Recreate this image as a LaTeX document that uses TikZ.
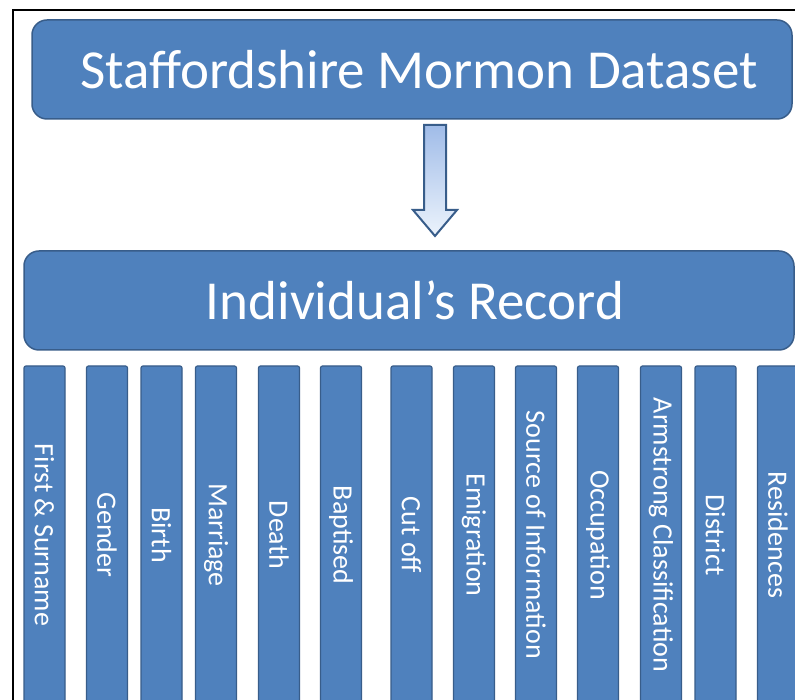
\documentclass[tikz,border=0pt]{standalone}
\usepackage{fontspec}
\setmainfont{Carlito}

\begin{document}
\begin{tikzpicture}[x=1pt,y=1pt,font=\fontsize{28}{30}\selectfont]
   \definecolor{officeblue}{RGB}{79,129,189}
   \definecolor{officeedge}{RGB}{56,93,138}
   \definecolor{arrowtop}{RGB}{160,188,232}
   \definecolor{arrowbottom}{RGB}{236,243,252}
   \tikzset{
      banner/.style={draw=officeedge,line width=1.5pt,fill=officeblue,rounded corners=15pt,
                     text=white,font=\fontsize{55}{60}\selectfont,inner sep=0pt},
      field/.style={draw=officeedge,line width=1.2pt,fill=officeblue,rounded corners=2pt,
                    minimum width=338pt,minimum height=41pt,inner sep=0pt,text=white,rotate=-90},
      flowarrow/.style={draw=officeedge,line width=2pt,top color=arrowtop,bottom color=arrowbottom}
   }
   \useasboundingbox (0,0) rectangle (795,700);
   \clip (0,0) rectangle (795,700);
   \fill[white] (0,0) rectangle (795,700);
   \draw[line width=2.5pt] (13,-20) -- (13,690) -- (820,690);

   \node[banner,minimum width=760pt,minimum height=99pt] (dataset) at (412,630.5) {\hspace{14pt}Staffordshire Mormon Dataset};
   \node[banner,minimum width=770pt,minimum height=99pt] (record) at (409,399.5) {\hspace{12pt}Individual’s Record};

   \coordinate (flowtop) at (435,575);
   \coordinate (flowtip) at (435,464);
   \draw[flowarrow] (flowtop) ++(-11,0) -- ++(22,0) -- ++(0,-85) -- ++(11,0) -- (flowtip) -- ++(-22,26) -- ++(11,0) -- cycle;

   \foreach \x/\name/\txt in {44.5/name/First \& Surname, 107/gender/Gender, 161.5/birth/Birth,
         216/marriage/Marriage, 279/death/Death, 341/baptised/Baptised, 411.5/cutoff/Cut off,
         474/emigration/Emigration, 536/source/Source of Information, 598/occupation/Occupation,
         661/armstrong/Armstrong Classification, 715.5/district/District, 778/residences/Residences}
      \node[field] (\name) at (\x,165) {\txt};
\end{tikzpicture}
\end{document}
